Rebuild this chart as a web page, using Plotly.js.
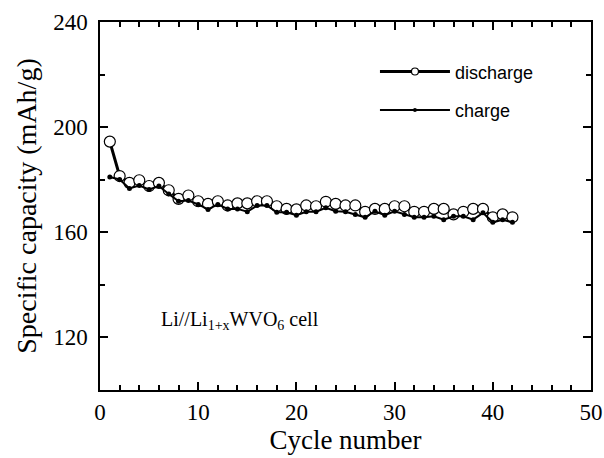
<!DOCTYPE html>
<html>
<head>
<meta charset="utf-8">
<script src="https://cdn.plot.ly/plotly-3.0.1.min.js"></script>
<style>html,body{margin:0;padding:0;background:#fff;}#chart{width:604px;height:458px;}</style>
</head>
<body>
<div id="chart"></div>
<script>
const cycles = [1,2,3,4,5,6,7,8,9,10,11,12,13,14,15,16,17,18,19,20,21,22,23,24,25,26,27,28,29,30,31,32,33,34,35,36,37,38,39,40,41,42];
const discharge = [194.5,181.4,178.8,179.8,177.6,178.8,176.0,172.7,174.0,171.8,170.8,171.8,170.2,171.0,171.0,171.8,171.8,169.9,168.9,168.7,170.2,169.9,171.6,170.8,170.2,170.2,167.8,168.9,168.9,169.9,169.9,167.8,167.8,168.9,168.9,166.8,167.8,168.9,168.9,165.7,166.8,165.7];
const charge = [181.0,180.1,176.7,177.8,176.3,177.6,174.6,171.8,172.1,170.6,168.7,170.6,168.9,168.9,167.8,170.2,170.2,167.6,167.6,166.5,167.8,167.8,169.3,168.0,167.8,166.8,165.7,168.0,166.5,168.0,166.8,165.7,165.7,166.1,164.8,166.1,166.1,164.8,167.4,163.8,164.8,163.8];
const xTicks = [0,10,20,30,40,50];
const yTicks = [120,160,200,240];

const serif = "Liberation Serif, Times New Roman, serif";
const sans = "Liberation Sans, Arial, sans-serif";

const traces = [
  {x: cycles, y: discharge, name: 'discharge', type: 'scatter', mode: 'lines+markers',
   showlegend: false,
   line: {color: '#000', width: 3},
   marker: {symbol: 'circle', size: 11, color: '#fff', line: {color: '#000', width: 1.2}}},
  {x: cycles, y: charge, name: 'charge', type: 'scatter', mode: 'lines+markers',
   showlegend: false,
   line: {color: '#000', width: 2},
   marker: {symbol: 'circle', size: 5, color: '#000'}},
  // legend entries (no data points)
  {x: [null], y: [null], name: 'discharge', type: 'scatter', mode: 'lines+markers', legendgroup: 'a',
   line: {color: '#000', width: 3},
   marker: {symbol: 'circle', size: 7, color: '#fff', line: {color: '#000', width: 1.2}}},
  {x: [null], y: [null], name: 'charge', type: 'scatter', mode: 'lines+markers', legendgroup: 'b',
   line: {color: '#000', width: 2},
   marker: {symbol: 'circle', size: 4, color: '#000'}}
];

const axisCommon = {
  showline: true, linecolor: '#000', linewidth: 2, mirror: 'allticks',
  ticks: 'inside', ticklen: 8, tickwidth: 2, tickcolor: '#000',
  showgrid: false, zeroline: false,
  tickfont: {family: serif, size: 23, color: '#000'}
};

const layout = {
  width: 604, height: 458,
  margin: {l: 100, r: 13, t: 22, b: 68},
  paper_bgcolor: '#fff', plot_bgcolor: '#fff',
  showlegend: true,
  legend: {x: 0.56, y: 0.915, xanchor: 'left', yanchor: 'top', bgcolor: 'rgba(0,0,0,0)',
           font: {family: sans, size: 18, color: '#000'}, traceorder: 'grouped', tracegroupgap: 12,
           itemwidth: 70},
  xaxis: Object.assign({}, axisCommon, {
    range: [0, 50], tickvals: xTicks, ticktext: xTicks.map(String),
    minor: {dtick: 2, ticks: 'inside', ticklen: 5, tickwidth: 2, tickcolor: '#000', showgrid: false},
    title: {text: 'Cycle number', font: {family: serif, size: 27, color: '#000'}, standoff: 4}
  }),
  yaxis: Object.assign({}, axisCommon, {
    range: [100, 240], tickvals: yTicks, ticktext: yTicks.map(v => v + '\u00a0'),
    minor: {dtick: 20, ticks: 'inside', ticklen: 5, tickwidth: 2, tickcolor: '#000', showgrid: false},
    title: {text: 'Specific capacity (mAh/g)', font: {family: serif, size: 28, color: '#000'}, standoff: 8}
  }),
  annotations: [{
    x: 6, y: 126.5, xref: 'x', yref: 'y', xanchor: 'left', yanchor: 'middle', showarrow: false,
    text: 'Li//Li<sub>1+x</sub>WVO<sub>6</sub> cell',
    font: {family: serif, size: 20, color: '#000'}
  }]
};

Plotly.newPlot('chart', traces, layout, {displayModeBar: false, staticPlot: true});
</script>
</body>
</html>
